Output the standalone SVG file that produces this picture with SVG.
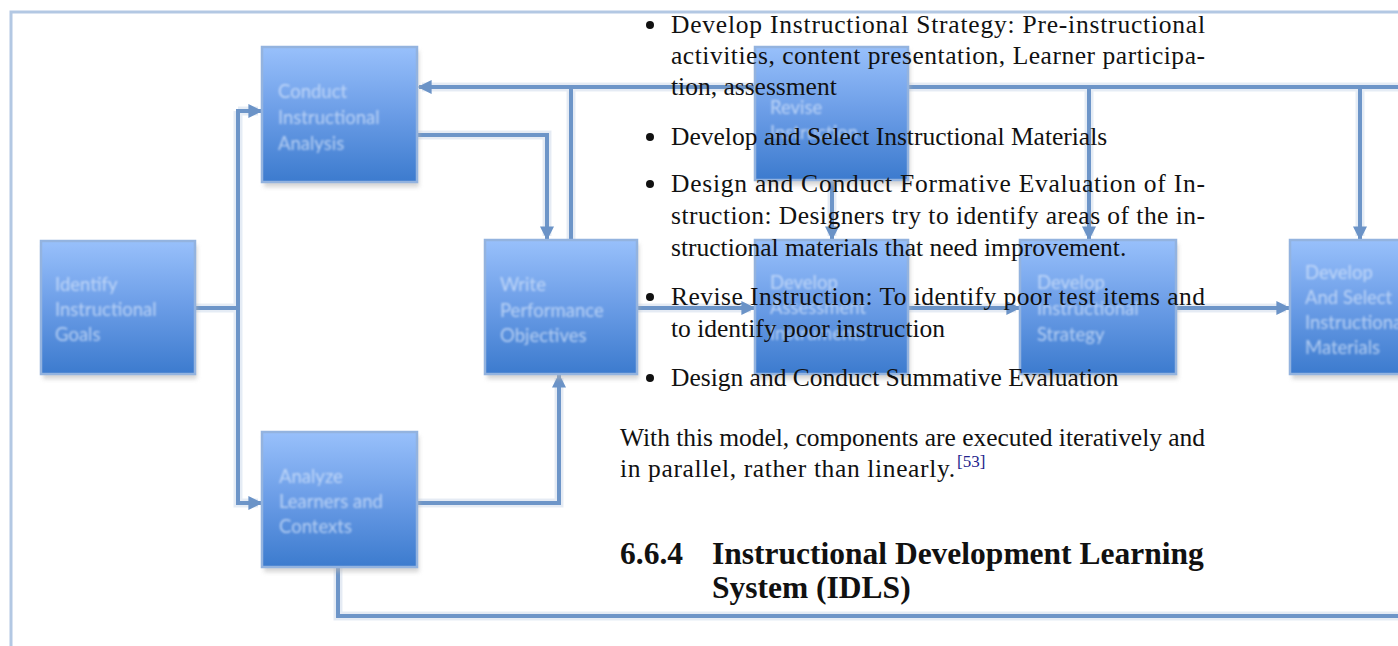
<svg xmlns="http://www.w3.org/2000/svg" width="1398" height="646" viewBox="0 0 1398 646">
  <defs>
    <linearGradient id="boxg" x1="0" y1="0" x2="0" y2="1">
      <stop offset="0" stop-color="#98c0fb"/>
      <stop offset="0.5" stop-color="#6a9ce6"/>
      <stop offset="1" stop-color="#3c7bce"/>
    </linearGradient>
    <filter id="soft" x="-10%" y="-10%" width="120%" height="130%">
      <feGaussianBlur stdDeviation="2"/>
    </filter>
    <filter id="tblur" x="-5%" y="-20%" width="110%" height="140%">
      <feGaussianBlur stdDeviation="0.9"/>
    </filter>
    <marker id="arr" viewBox="0 0 10 10" refX="9" refY="5" markerWidth="3.5" markerHeight="3.5" orient="auto" markerUnits="strokeWidth">
      <path d="M0,0 L10,5 L0,10 z" fill="#6b93c7"/>
    </marker>
  </defs>
  <style>
    .shadow { fill: #b4b4b4; opacity: 0.55; filter: url(#soft); }
    .box { fill: url(#boxg); stroke: #93b3df; stroke-width: 2.5; }
    .lbl { font-family: Lato, "Liberation Sans", sans-serif; font-size: 18.5px; fill: #d9e7fc; fill-opacity: 0.72; filter: url(#tblur); }
    .wire { fill: none; stroke: #6d95c8; stroke-width: 4; stroke-linejoin: miter; }
    .halo { fill: none; stroke: #dfe7f2; stroke-width: 9; }
    .frame { fill: none; stroke: #b3c8e3; stroke-width: 3; }
    .body { font-family: "Liberation Serif", "Times New Roman", serif; font-size: 25.5px; fill: #111; }
    .sup { font-family: "Liberation Serif", "Times New Roman", serif; font-size: 17px; fill: #23238c; }
    .head { font-family: "Liberation Serif", "Times New Roman", serif; font-size: 31.5px; font-weight: bold; fill: #111; }
  </style>

  <rect width="1398" height="646" fill="#ffffff"/>

  <!-- outer frame -->
  <path class="frame" d="M11,646 V12 H1398"/>

  <!-- connectors -->
  <g id="connectors">
    <g opacity="0.8">
      <path class="halo" d="M195,308 H238 M238,111 V503 H258 M238,111 H258"/>
      <path class="halo" d="M1398,87 H422 M571,87 V240 M1089,87 V236 M1360,87 V236"/>
      <path class="halo" d="M417,135 H547 V236 M832,180 V236"/>
      <path class="halo" d="M637,308 H751 M908,308 H1016 M1176,308 H1286"/>
      <path class="halo" d="M417,503 H559 V378 M338,567 V616 H1398"/>
    </g>
    <path class="wire" d="M195,308 H238"/>
    <path class="wire" d="M238,308 V111 H261" marker-end="url(#arr)"/>
    <path class="wire" d="M238,308 V503 H261" marker-end="url(#arr)"/>
    <path class="wire" d="M1398,87 H419" marker-end="url(#arr)"/>
    <path class="wire" d="M571,87 V240"/>
    <path class="wire" d="M1089,87 V239" marker-end="url(#arr)"/>
    <path class="wire" d="M1360,87 V239" marker-end="url(#arr)"/>
    <path class="wire" d="M417,135 H547 V239" marker-end="url(#arr)"/>
    <path class="wire" d="M832,180 V239" marker-end="url(#arr)"/>
    <path class="wire" d="M637,308 H754" marker-end="url(#arr)"/>
    <path class="wire" d="M908,308 H1019" marker-end="url(#arr)"/>
    <path class="wire" d="M1176,308 H1289" marker-end="url(#arr)"/>
    <path class="wire" d="M417,503 H559 V375" marker-end="url(#arr)"/>
    <path class="wire" d="M338,567 V616 H1398"/>
  </g>

  <!-- nodes -->
  <g id="node-identify">
    <rect class="shadow" x="43" y="245" width="154" height="134"/>
    <rect class="box" x="41" y="241" width="154" height="133"/>
    <text class="lbl"><tspan x="55" y="291">Identify</tspan><tspan x="55" y="316">Instructional</tspan><tspan x="55" y="341">Goals</tspan></text>
  </g>
  <g id="node-conduct">
    <rect class="shadow" x="264" y="51" width="155" height="136"/>
    <rect class="box" x="262" y="47" width="155" height="135"/>
    <text class="lbl"><tspan x="278" y="98">Conduct</tspan><tspan x="278" y="124">Instructional</tspan><tspan x="278" y="150">Analysis</tspan></text>
  </g>
  <g id="node-analyze">
    <rect class="shadow" x="264" y="436" width="155" height="136"/>
    <rect class="box" x="262" y="432" width="155" height="135"/>
    <text class="lbl"><tspan x="279" y="483">Analyze</tspan><tspan x="279" y="508">Learners and</tspan><tspan x="279" y="533">Contexts</tspan></text>
  </g>
  <g id="node-write">
    <rect class="shadow" x="487" y="244" width="152" height="135"/>
    <rect class="box" x="485" y="240" width="152" height="134"/>
    <text class="lbl"><tspan x="500" y="291">Write</tspan><tspan x="500" y="317">Performance</tspan><tspan x="500" y="342">Objectives</tspan></text>
  </g>
  <g id="node-revise">
    <rect class="shadow" x="757" y="51" width="153" height="134"/>
    <rect class="box" x="755" y="47" width="153" height="133"/>
    <text class="lbl"><tspan x="770" y="114">Revise</tspan><tspan x="770" y="139">Instruction</tspan></text>
  </g>
  <g id="node-assessment">
    <rect class="shadow" x="757" y="244" width="153" height="135"/>
    <rect class="box" x="755" y="240" width="153" height="134"/>
    <text class="lbl"><tspan x="770" y="289">Develop</tspan><tspan x="770" y="314">Assessment</tspan><tspan x="770" y="340">Instruments</tspan></text>
  </g>
  <g id="node-strategy">
    <rect class="shadow" x="1022" y="244" width="156" height="135"/>
    <rect class="box" x="1020" y="240" width="156" height="134"/>
    <text class="lbl"><tspan x="1037" y="289">Develop</tspan><tspan x="1037" y="315">Instructional</tspan><tspan x="1037" y="341">Strategy</tspan></text>
  </g>
  <g id="node-materials">
    <rect class="shadow" x="1292" y="244" width="120" height="135"/>
    <rect class="box" x="1290" y="240" width="120" height="134"/>
    <text class="lbl"><tspan x="1305" y="279">Develop</tspan><tspan x="1305" y="304">And Select</tspan><tspan x="1305" y="329">Instructional</tspan><tspan x="1305" y="354">Materials</tspan></text>
  </g>

  <!-- overlaid page text -->
  <g id="page-text">
    <circle cx="650" cy="25" r="4" fill="#111"/>
    <circle cx="650" cy="137" r="4" fill="#111"/>
    <circle cx="650" cy="184" r="4" fill="#111"/>
    <circle cx="650" cy="297" r="4" fill="#111"/>
    <circle cx="650" cy="378" r="4" fill="#111"/>
    <text class="body" x="671" y="33" textLength="534" lengthAdjust="spacing">Develop Instructional Strategy:  Pre-instructional</text>
    <text class="body" x="671" y="64" textLength="534" lengthAdjust="spacing">activities, content presentation, Learner participa-</text>
    <text class="body" x="671" y="95">tion, assessment</text>
    <text class="body" x="671" y="145">Develop and Select Instructional Materials</text>
    <text class="body" x="671" y="192" textLength="534" lengthAdjust="spacing">Design and Conduct Formative Evaluation of In-</text>
    <text class="body" x="671" y="224" textLength="534" lengthAdjust="spacing">struction: Designers try to identify areas of the in-</text>
    <text class="body" x="671" y="256">structional materials that need improvement.</text>
    <text class="body" x="671" y="305" textLength="534" lengthAdjust="spacing">Revise Instruction:  To identify poor test items and</text>
    <text class="body" x="671" y="337">to identify poor instruction</text>
    <text class="body" x="671" y="386">Design and Conduct Summative Evaluation</text>
    <text class="body" x="620" y="446" textLength="585" lengthAdjust="spacing">With this model, components are executed iteratively and</text>
    <text class="body" x="620" y="477" textLength="335" lengthAdjust="spacing">in parallel, rather than linearly.</text>
    <text class="sup" x="957" y="467">[53]</text>
    <text class="head" x="620" y="564">6.6.4</text>
    <text class="head" x="712" y="564">Instructional Development Learning</text>
    <text class="head" x="712" y="598">System (IDLS)</text>
  </g>
</svg>
